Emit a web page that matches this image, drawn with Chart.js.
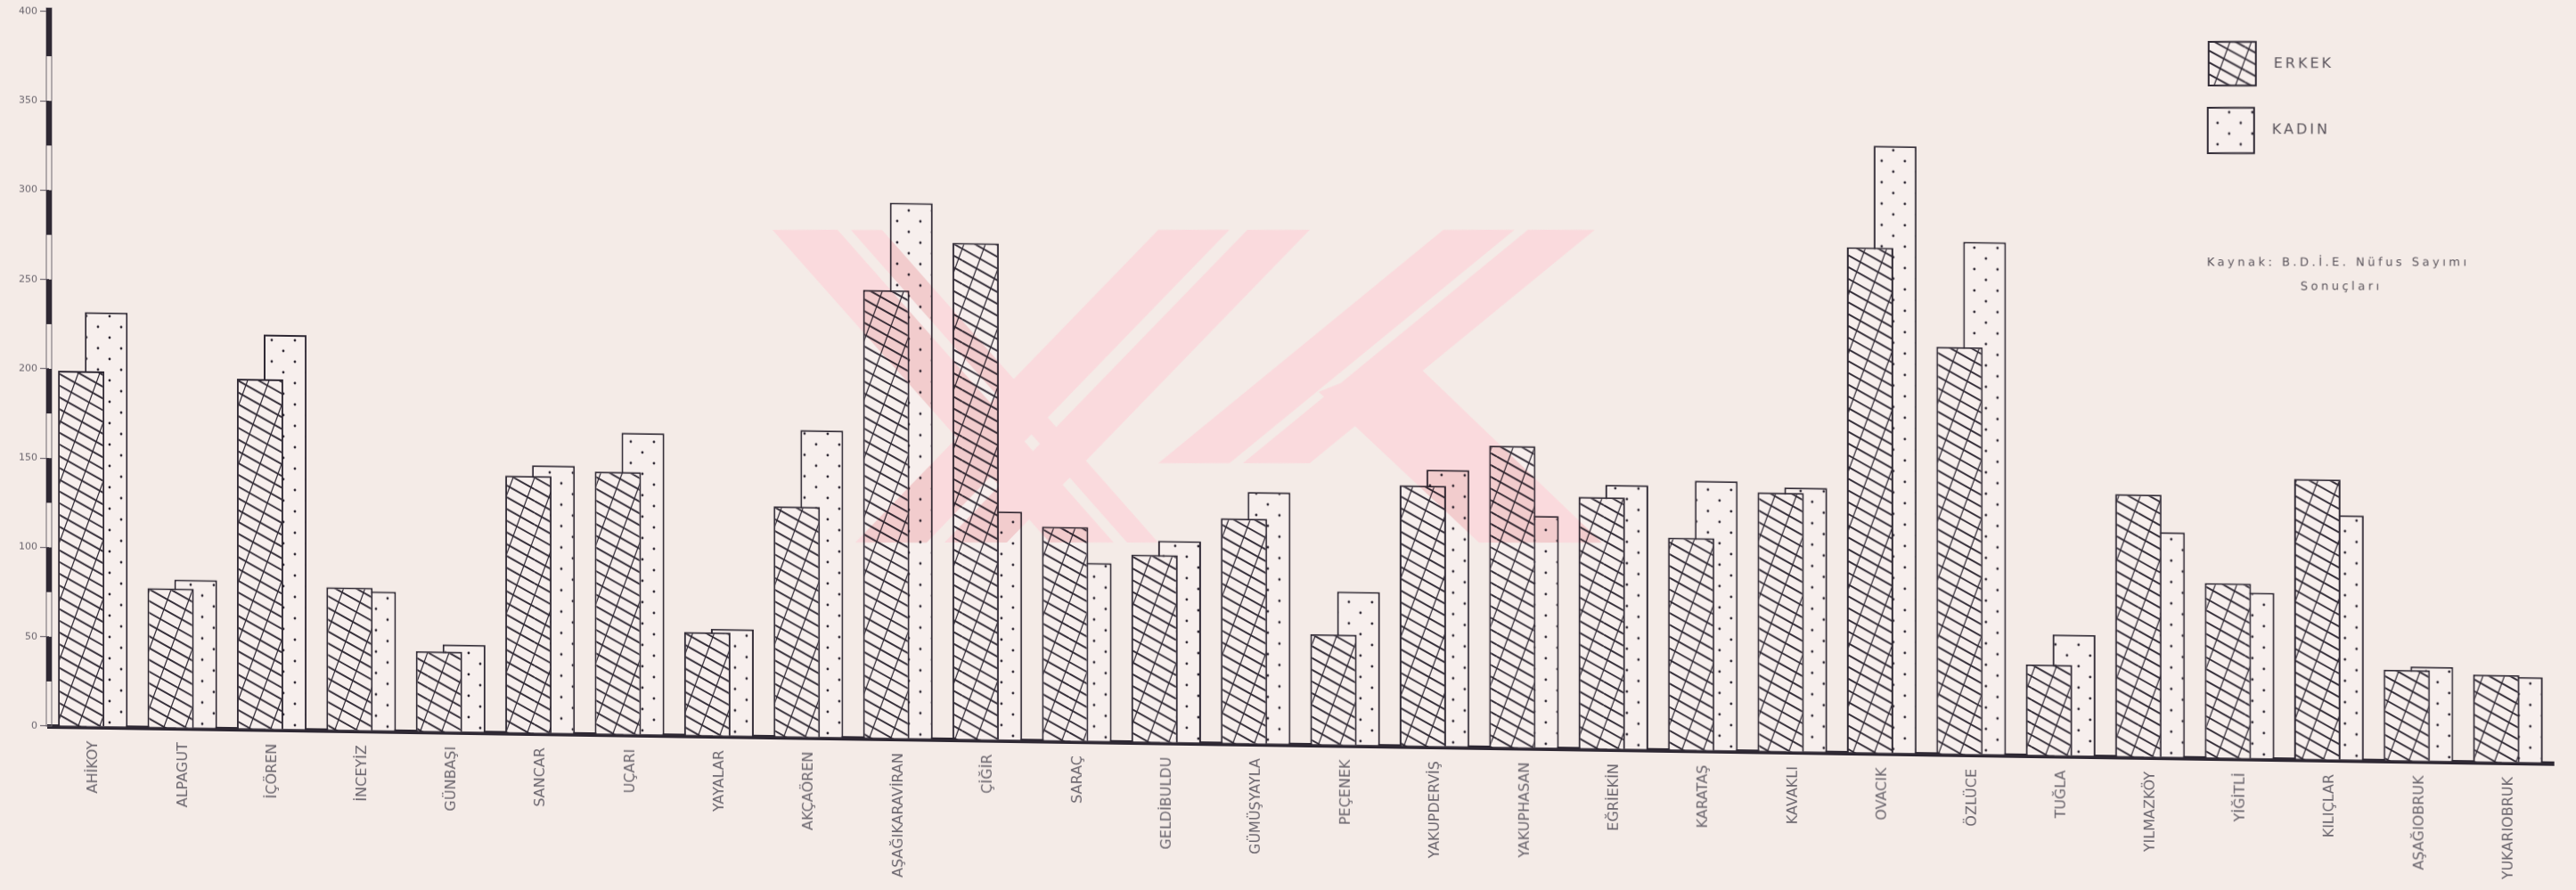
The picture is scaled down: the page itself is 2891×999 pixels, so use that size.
<!DOCTYPE html>
<html lang="tr">
<head>
<meta charset="UTF-8">
<title>Köylere göre erkek ve kadın nüfus</title>
<script src="https://cdn.jsdelivr.net/npm/chart.js@4.4.1/dist/chart.umd.min.js"></script>
<style>
  html, body { margin: 0; padding: 0; background: #f4ebe7; }
  #wrap { position: relative; width: 2891px; height: 999px; overflow: hidden; }
  /* the scanned page is slightly skewed: baseline runs downhill to the right */
  #chart { transform: skewY(0.85deg); transform-origin: 55px 815px; }
</style>
</head>
<body>
<div id="wrap"><canvas id="chart" width="2891" height="999"></canvas></div>

<script>
const koyler = ["AHİKOY", "ALPAGUT", "İÇÖREN", "İNCEYİZ", "GÜNBAŞI", "SANCAR", "UÇARI", "YAYALAR",
  "AKÇAÖREN", "AŞAĞIKARAVİRAN", "ÇİĞİR", "SARAÇ", "GELDİBULDU", "GÜMÜŞYAYLA", "PEÇENEK",
  "YAKUPDERVİŞ", "YAKUPHASAN", "EĞRİEKİN", "KARATAŞ", "KAVAKLI", "OVACIK", "ÖZLÜCE", "TUĞLA",
  "YILMAZKÖY", "YİĞİTLİ", "KILIÇLAR", "AŞAĞIOBRUK", "YUKARIOBRUK"];
const erkek = [199, 78, 196, 80, 45, 144, 147, 58, 129, 251, 278, 120, 105, 126, 62, 146, 169, 141, 119, 145, 283, 228, 51, 147, 98, 157, 51, 49];
const kadin = [232, 83, 221, 78, 49, 150, 169, 60, 172, 300, 128, 100, 113, 141, 86, 155, 130, 148, 151, 148, 340, 287, 68, 126, 93, 137, 53, 48];
const yMin = 0, yMax = 400, yStep = 50;
const kaynak = ["Kaynak: B.D.İ.E. Nüfus Sayımı", "Sonuçları"];

const INK = "#2e2833";
const PAPER = "#f7efed";
const SKEW = Math.tan(0.85 * Math.PI / 180);
const ORIGIN_X = 55;

// cross hatch for ERKEK: shallow lines down to the right, steep lines up to the right
function hatchPattern(ctx) {
  const W = 120, H = 132;
  const t = document.createElement("canvas");
  t.width = W; t.height = H;
  const c = t.getContext("2d");
  c.fillStyle = PAPER;
  c.fillRect(0, 0, W, H);
  c.strokeStyle = INK;

  c.lineWidth = 1.9;
  c.beginPath();
  for (let k = -8; k <= 12; k++) {
    c.moveTo(0, 13.2 * k);
    c.lineTo(W, 13.2 * k + 0.55 * W);
  }
  c.stroke();

  c.lineWidth = 1.2;
  c.beginPath();
  for (let j = -2; j <= 8; j++) {
    c.moveTo(24 * j, H);
    c.lineTo(24 * j + H / 2.75, 0);
  }
  c.stroke();
  return ctx.createPattern(t, "repeat");
}

// dots for KADIN
function dotPattern(ctx) {
  const t = document.createElement("canvas");
  t.width = 26; t.height = 24;
  const c = t.getContext("2d");
  c.fillStyle = PAPER;
  c.fillRect(0, 0, 26, 24);
  c.fillStyle = INK;
  [[6, 6], [19, 18]].forEach(([x, y]) => {
    c.beginPath(); c.arc(x, y, 1.4, 0, Math.PI * 2); c.fill();
  });
  return ctx.createPattern(t, "repeat");
}

// faint pink stamp printed over the scanned page
const stampBands = [
  [[867, 258], [940, 258], [1250, 609], [1178, 609]],
  [[955, 258], [990, 258], [1300, 609], [1265, 609]],
  [[1300, 258], [1380, 258], [1040, 609], [960, 609]],
  [[1400, 258], [1470, 258], [1130, 609], [1060, 609]],
  [[1620, 258], [1700, 258], [1380, 520], [1300, 520]],
  [[1715, 258], [1790, 258], [1470, 520], [1395, 520]],
  [[1480, 440], [1580, 400], [1798, 609], [1660, 609]]
];

function drawStamp(c) {
  c.save();
  c.globalCompositeOperation = "multiply";
  c.fillStyle = "#fadadd";
  c.beginPath();
  stampBands.forEach(b => {
    b.forEach(([x, y], i) => i ? c.lineTo(x, y) : c.moveTo(x, y));
    c.closePath();
  });
  c.fill("nonzero");
  c.restore();
}

const canvas = document.getElementById("chart");
const ctx = canvas.getContext("2d");
const erkekFill = hatchPattern(ctx);
const kadinFill = dotPattern(ctx);

const extras = {
  id: "extras",
  afterDraw(chart) {
    const c = chart.ctx;
    const y = chart.scales.y;
    const left = chart.chartArea.left;
    const top = y.getPixelForValue(yMax) - 4;
    const bottom = y.getPixelForValue(yMin);

    // striped y axis: hollow bar with every other 25-unit piece filled
    c.save();
    c.strokeStyle = "#6f6870";
    c.lineWidth = 1;
    c.strokeRect(left - 3, top, 6, bottom - top);
    c.fillStyle = INK;
    for (let v = yMax; v > yMin; v -= yStep) {
      const y1 = v === yMax ? top : y.getPixelForValue(v);
      const y2 = y.getPixelForValue(v - yStep / 2);
      c.fillRect(left - 3, y1, 6, y2 - y1);
    }
    c.restore();

    // legend, source note and stamp in page coordinates (undo the skew)
    c.save();
    c.transform(1, -SKEW, 0, 1, 0, ORIGIN_X * SKEW);
    c.lineWidth = 2;
    c.strokeStyle = INK;
    c.fillStyle = erkekFill;
    c.fillRect(2479, 47, 53, 49); c.strokeRect(2479, 47, 53, 49);
    c.fillStyle = kadinFill;
    c.fillRect(2478, 121, 52, 51); c.strokeRect(2478, 121, 52, 51);

    c.fillStyle = "#5a545c";
    c.textBaseline = "middle";
    c.font = "16px 'DejaVu Sans'";
    c.letterSpacing = "3px";
    c.fillText("ERKEK", 2552, 72);
    c.fillText("KADIN", 2550, 146);

    c.font = "13px 'DejaVu Sans'";
    c.letterSpacing = "3.5px";
    c.fillText(kaynak[0], 2477, 295);
    c.fillText(kaynak[1], 2582, 322);

    drawStamp(c);
    c.restore();
  }
};

new Chart(ctx, {
  type: "bar",
  data: {
    labels: koyler,
    datasets: [
      {
        label: "ERKEK",
        data: erkek,
        backgroundColor: erkekFill,
        borderColor: INK,
        borderWidth: 2,
        barPercentage: 1.85,
        categoryPercentage: 0.56
      },
      {
        label: "KADIN",
        data: kadin,
        backgroundColor: kadinFill,
        borderColor: INK,
        borderWidth: 2,
        barPercentage: 1.71,
        categoryPercentage: 0.56
      }
    ]
  },
  options: {
    responsive: false,
    animation: false,
    layout: { padding: { top: 13, right: 25, left: 0, bottom: 0 } },
    plugins: {
      legend: { display: false },
      tooltip: { enabled: false }
    },
    scales: {
      x: {
        grid: { display: false },
        border: { color: INK, width: 5 },
        ticks: {
          autoSkip: false,
          minRotation: 90,
          maxRotation: 90,
          padding: 8,
          color: "#6b666e",
          font: { family: "'DejaVu Sans'", size: 16 }
        },
        afterFit: (s) => { s.height = 999 - 815; }
      },
      y: {
        min: yMin,
        max: yMax,
        grid: { drawOnChartArea: false, drawTicks: true, tickLength: 10, color: "#6f6870", lineWidth: 1.2 },
        border: { display: false },
        ticks: {
          stepSize: yStep,
          padding: 3,
          color: "#6b666e",
          font: { family: "'DejaVu Sans'", size: 11 }
        },
        afterFit: (s) => { s.width = 55; }
      }
    }
  },
  plugins: [extras]
});
</script>
</body>
</html>
